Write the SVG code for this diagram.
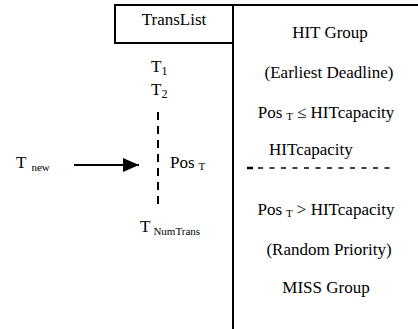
<svg xmlns="http://www.w3.org/2000/svg" width="418" height="329" viewBox="0 0 418 329">
  <style>
    text { font-family: "Liberation Serif", "Times New Roman", serif; fill: #000; }
    .t { font-size: 17px; }
    .s { font-size: 11px; }
    .m { text-anchor: middle; }
    .frame { stroke: #000; stroke-width: 2; fill: none; }
  </style>
  <defs>
    <marker id="head" viewBox="0 0 16 14" refX="16" refY="7" markerWidth="16" markerHeight="14" markerUnits="userSpaceOnUse" orient="auto">
      <path d="M0,0 L16,7 L0,14 z" fill="#000"/>
    </marker>
  </defs>
  <rect width="418" height="329" fill="#fff"/>

  <!-- list header and partition frame -->
  <g id="translist">
    <rect class="frame" x="115" y="5" width="118" height="38"/>
    <text class="t m" x="174" y="25">TransList</text>
  </g>
  <g id="frame">
    <line class="frame" x1="233" y1="5" x2="418" y2="5"/>
    <line class="frame" x1="233" y1="5" x2="233" y2="329"/>
  </g>

  <!-- transaction list entries -->
  <g id="t1"><text class="t" x="151" y="72">T<tspan font-size="12" dy="3">1</tspan></text></g>
  <g id="t2"><text class="t" x="151" y="95">T<tspan font-size="12" dy="3">2</tspan></text></g>
  <g id="tnum"><text class="t" x="140" y="232">T<tspan class="s" dx="3" dy="3">NumTrans</tspan></text></g>
  <g id="tnew"><text class="t" x="16" y="168">T<tspan class="s" dx="5" dy="3">new</tspan></text></g>
  <g id="pos"><text class="t" x="170" y="168">Pos<tspan class="s" dx="4" dy="2">T</tspan></text></g>

  <!-- HIT group -->
  <g id="hit">
    <text class="t m" x="330" y="38">HIT Group</text>
    <text class="t m" x="329" y="78">(Earliest Deadline)</text>
    <text class="t m" x="326" y="118">Pos<tspan class="s" dx="4" dy="2">T</tspan><tspan dx="4" dy="-2">≤ HITcapacity</tspan></text>
    <text class="t" x="269" y="155">HITcapacity</text>
  </g>

  <!-- MISS group -->
  <g id="miss">
    <text class="t m" x="326" y="215">Pos<tspan class="s" dx="4" dy="2">T</tspan><tspan dx="4" dy="-2">&gt; HITcapacity</tspan></text>
    <text class="t m" x="329" y="255">(Random Priority)</text>
    <text class="t m" x="326" y="293">MISS Group</text>
  </g>

  <!-- connectors -->
  <g id="connectors" stroke="#000" fill="none">
    <line x1="74" y1="165" x2="139" y2="165" stroke-width="2" marker-end="url(#head)"/>
    <line x1="158" y1="112" x2="158" y2="205" stroke-width="2" stroke-dasharray="8 6"/>
    <line x1="247" y1="168" x2="253" y2="168" stroke-width="2.5"/>
    <line x1="258" y1="168" x2="390" y2="168" stroke-width="1.3" stroke-dasharray="5 6.5"/>
  </g>
</svg>
